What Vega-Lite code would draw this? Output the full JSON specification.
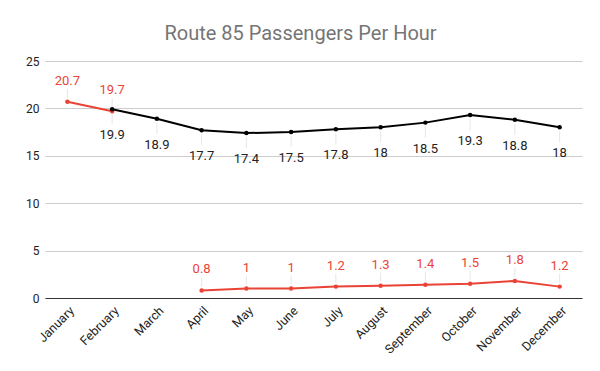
{
  "$schema": "https://vega.github.io/schema/vega-lite/v6.json",
  "width": 537,
  "height": 237,
  "autosize": {"type": "none"},
  "padding": {"left": 45, "top": 61, "right": 18, "bottom": 73},
  "background": "#ffffff",
  "title": {
    "text": "Route 85 Passengers Per Hour",
    "font": "Roboto",
    "fontSize": 20,
    "fontWeight": "normal",
    "color": "#757575",
    "anchor": "middle",
    "dx": -13,
    "offset": 11
  },
  "config": {
    "view": {"stroke": null},
    "font": "Roboto"
  },
  "data": {
    "values": [
      {"month": "January", "series": "Series 2", "part": "b1", "value": 20.7},
      {"month": "February", "series": "Series 2", "part": "b1", "value": 19.7},
      {"month": "April", "series": "Series 2", "part": "b2", "value": 0.8},
      {"month": "May", "series": "Series 2", "part": "b2", "value": 1},
      {"month": "June", "series": "Series 2", "part": "b2", "value": 1},
      {"month": "July", "series": "Series 2", "part": "b2", "value": 1.2},
      {"month": "August", "series": "Series 2", "part": "b2", "value": 1.3},
      {"month": "September", "series": "Series 2", "part": "b2", "value": 1.4},
      {"month": "October", "series": "Series 2", "part": "b2", "value": 1.5},
      {"month": "November", "series": "Series 2", "part": "b2", "value": 1.8},
      {"month": "December", "series": "Series 2", "part": "b2", "value": 1.2},
      {"month": "February", "series": "Series 1", "part": "a", "value": 19.9},
      {"month": "March", "series": "Series 1", "part": "a", "value": 18.9},
      {"month": "April", "series": "Series 1", "part": "a", "value": 17.7},
      {"month": "May", "series": "Series 1", "part": "a", "value": 17.4},
      {"month": "June", "series": "Series 1", "part": "a", "value": 17.5},
      {"month": "July", "series": "Series 1", "part": "a", "value": 17.8},
      {"month": "August", "series": "Series 1", "part": "a", "value": 18},
      {"month": "September", "series": "Series 1", "part": "a", "value": 18.5},
      {"month": "October", "series": "Series 1", "part": "a", "value": 19.3},
      {"month": "November", "series": "Series 1", "part": "a", "value": 18.8},
      {"month": "December", "series": "Series 1", "part": "a", "value": 18}
    ]
  },
  "encoding": {
    "x": {
      "field": "month",
      "type": "ordinal",
      "sort": ["January","February","March","April","May","June","July","August","September","October","November","December"],
      "scale": {"type": "point", "padding": 0.5},
      "axis": {
        "title": null,
        "labelAngle": -45,
        "labelFont": "Roboto",
        "labelFontSize": 12.5,
        "labelColor": "#222222",
        "ticks": false,
        "domain": true,
        "domainColor": "#333333",
        "labelPadding": 6,
        "grid": false
      }
    },
    "y": {
      "field": "value",
      "type": "quantitative",
      "scale": {"domain": [0, 25], "nice": false},
      "axis": {
        "title": null,
        "values": [0, 5, 10, 15, 20, 25],
        "labelFont": "Roboto",
        "labelFontSize": 12,
        "labelColor": "#222222",
        "ticks": false,
        "domain": false,
        "gridColor": "#cccccc",
        "labelPadding": 6
      }
    },
    "color": {
      "field": "series",
      "type": "nominal",
      "scale": {"domain": ["Series 1", "Series 2"], "range": ["#000000", "#ea4335"]},
      "legend": null
    }
  },
  "layer": [
    {
      "mark": {"type": "rule", "strokeWidth": 1, "yOffset": 4, "y2Offset": 15},
      "transform": [{"filter": "datum.series === 'Series 1'"}],
      "encoding": {"y2": {"field": "value"}, "color": {"value": "#e6e6e6"}}
    },
    {
      "mark": {"type": "rule", "strokeWidth": 1, "yOffset": -4, "y2Offset": -13},
      "transform": [{"filter": "datum.series === 'Series 2'"}],
      "encoding": {"y2": {"field": "value"}, "color": {"value": "#e6e6e6"}}
    },
    {
      "mark": {"type": "line", "strokeWidth": 2},
      "encoding": {"detail": {"field": "part"}}
    },
    {
      "mark": {"type": "point", "filled": true, "size": 20, "opacity": 1}
    },
    {
      "mark": {"type": "text", "dy": 26, "fontSize": 13, "font": "Roboto", "baseline": "middle"},
      "transform": [{"filter": "datum.series === 'Series 1'"}],
      "encoding": {"text": {"field": "value"}, "color": {"value": "#222222"}}
    },
    {
      "mark": {"type": "text", "dy": -21, "fontSize": 13, "font": "Roboto", "baseline": "middle"},
      "transform": [{"filter": "datum.series === 'Series 2'"}],
      "encoding": {"text": {"field": "value"}, "color": {"value": "#ea4335"}}
    }
  ]
}
